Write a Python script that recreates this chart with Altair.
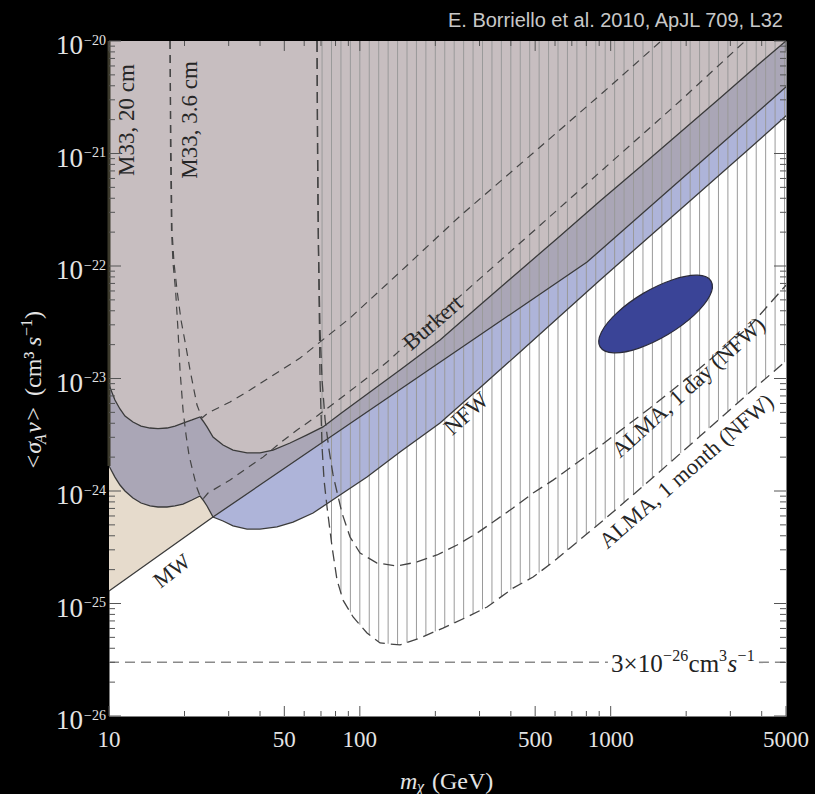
import altair as alt
import numpy as np
import pandas as pd

SERIF = "Liberation Serif"
SANS = "Liberation Sans"
W, H = 677, 675
FG = "#e4e4e4"

# ---- excluded-region boundaries: mass (GeV), <sigma v> (cm^3 s^-1) ----
burkert_m = [10, 10.56, 11.06, 11.58, 12.46, 13.42, 14.57, 15.68, 17.03, 18.33,
             19.73, 21.42, 23.06, 23.71, 24.59, 25.98, 28.48, 31.22, 35.5, 40.0,
             45.07, 52.7, 61.6, 71.3, 83.4, 109.8, 144.6, 208.8, 301.6, 435.3,
             628.4, 907.4, 1310, 1891, 2731, 3941, 5050]
burkert_s = [8.76e-24, 6.44e-24, 5.36e-24, 4.64e-24, 4.10e-24, 3.78e-24, 3.63e-24, 3.59e-24, 3.63e-24, 3.78e-24,
             4.02e-24, 4.28e-24, 4.55e-24, 4.19e-24, 3.71e-24, 3.02e-24, 2.56e-24, 2.31e-24, 2.18e-24, 2.18e-24,
             2.31e-24, 2.67e-24, 3.15e-24, 3.71e-24, 4.84e-24, 7.59e-24, 1.19e-23, 2.20e-23, 4.50e-23, 9.12e-23,
             1.85e-22, 3.78e-22, 7.59e-22, 1.54e-21, 3.11e-21, 6.37e-21, 1.02e-20]

nfw_m = [10, 10.56, 11.06, 11.58, 12.46, 13.42, 14.57, 15.68, 17.03, 18.33,
         19.73, 21.42, 23.06, 23.71, 24.59, 25.98, 28.48, 31.22, 35.5, 40.0,
         46.76, 54.17, 65.1, 81.1, 106.8, 144.6, 208.8, 309.9, 435.3, 628.4,
         907.4, 1436, 2273, 3595, 5050]
nfw_s = [1.67e-24, 1.33e-24, 1.13e-24, 1.0e-24, 8.67e-25, 7.82e-25, 7.36e-25, 7.21e-25, 7.21e-25, 7.36e-25,
         7.66e-25, 8.32e-25, 9.03e-25, 8.32e-25, 7.36e-25, 5.87e-25, 5.41e-25, 4.89e-25, 4.59e-25, 4.59e-25,
         4.79e-25, 5.30e-25, 6.37e-25, 8.85e-25, 1.33e-24, 2.22e-24, 4.02e-24, 8.76e-24, 1.72e-23, 3.59e-23,
         7.51e-23, 1.85e-22, 4.55e-22, 1.12e-21, 2.20e-21]

mw_m = [10, 25.98, 805.3, 5050]
mw_s = [1.29e-25, 5.87e-25, 1.085e-22, 3.98e-21]

# ---- M33 3.6 cm curves ----
m33_bur_m = [17.51, 17.67, 17.83, 18.16, 18.67, 19.37, 20.28, 21.04, 21.82, 22.43,
             23.49, 24.81, 30.37, 36.49, 57.76, 91.4, 144.6, 250.9, 523.1, 967.4, 1589]
m33_bur_s = [1e-20, 1.07e-21, 2.09e-22, 1.063e-22, 6.12e-23, 3.31e-23, 1.905e-23, 1.19e-23, 7.90e-24, 5.81e-24,
             4.46e-24, 4.94e-24, 6.18e-24, 7.90e-24, 1.52e-23, 3.45e-23, 8.85e-23, 2.78e-22, 1.142e-21, 3.75e-21, 1e-20]

m33_nfw_m = [17.51, 17.59, 17.75, 18.00, 18.42, 18.84, 19.19, 19.73, 20.28, 20.84,
             21.62, 22.43, 23.06, 23.71, 24.81, 30.37, 35.5, 41.12, 48.06, 56.2,
             67.5, 78.2, 106.8, 128.4, 228.9, 435.3, 907.4, 1891, 3436]
m33_nfw_s = [1e-20, 1.07e-21, 2.09e-22, 1.063e-22, 6.12e-23, 2.70e-23, 1.19e-23, 5.25e-24, 3.15e-24, 2.09e-24,
             1.475e-24, 1.063e-24, 9.03e-25, 8.49e-25, 9.6e-25, 1.25e-24, 1.60e-24, 2.00e-24, 2.67e-24, 3.48e-24,
             4.64e-24, 5.93e-24, 1.01e-23, 1.40e-23, 4.50e-23, 1.60e-22, 6.85e-22, 2.93e-21, 1e-20]

# ---- ALMA sensitivity (NFW) ----
alma_day_m = [67.5, 67.8, 68.4, 69.4, 70.7, 72.7, 75.4, 78.2, 81.1, 84.9,
              91.4, 100.2, 117.1, 140.7, 169.1, 203.1, 244.1, 293.4, 339.7, 408.1,
              490.6, 589.3, 907.4, 1436, 2273, 3595, 5050]
alma_day_s = [1e-20, 1.07e-21, 1.39e-22, 2.70e-23, 9.7e-24, 4.28e-24, 2.31e-24, 1.39e-24, 9.8e-25, 6.37e-25,
              3.90e-25, 2.81e-25, 2.29e-25, 2.15e-25, 2.34e-25, 2.70e-25, 3.31e-25, 4.23e-25, 5.30e-25, 7.06e-25,
              9.6e-25, 1.25e-24, 2.51e-24, 5.47e-24, 1.24e-23, 2.93e-23, 6.92e-23]

alma_month_m = [67.5, 68.1, 68.8, 69.4, 70.7, 72.0, 74.0, 77.5, 81.1, 85.7,
                94.0, 106.8, 120.4, 144.6, 173.8, 214.6, 267.6, 321.5, 408.1, 490.6,
                589.3, 907.4, 1436, 2273, 3595, 5050]
alma_month_s = [1e-20, 3.86e-22, 4.99e-23, 9.7e-24, 2.46e-24, 1.25e-24, 7.21e-25, 3.18e-25, 1.62e-25, 1.07e-25,
                7.59e-26, 5.47e-26, 4.46e-26, 4.28e-26, 4.94e-26, 6.05e-26, 7.59e-26, 9.31e-26, 1.37e-25, 1.72e-25,
                2.34e-25, 5.19e-25, 1.25e-24, 3.08e-24, 7.59e-24, 1.46e-23]

# ---- best-fit region ----
ellipse_m = [2513, 2484, 2146, 1691, 1291, 1028, 907.4, 918.3, 1062, 1349, 1767, 2219]
ellipse_s = [7.34e-23, 5.43e-23, 3.64e-23, 2.46e-23, 1.855e-23, 1.692e-23, 1.91e-23, 2.58e-23,
             3.85e-23, 5.71e-23, 7.55e-23, 8.28e-23]

thermal_s = 3e-26
S_TOP = 1e-20

# ---- axes ----
x_major = [10, 50, 100, 500, 1000, 5000]
x_minor = [20, 30, 40, 60, 70, 80, 90, 200, 300, 400, 600, 700, 800, 900, 2000, 3000, 4000]
y_exps = [-20, -21, -22, -23, -24, -25, -26]
y_major = [10.0 ** e for e in y_exps]
y_minor = [k * 10.0 ** e for e in range(-26, -20) for k in range(2, 10)]

xs = alt.Scale(type="log", domain=[10, 5000], nice=False)
ys = alt.Scale(type="log", domain=[1e-26, 1e-20], nice=False)
X = alt.X("m:Q", scale=xs, axis=None)
Y = alt.Y("s:Q", scale=ys, axis=None)
ONE = pd.DataFrame({"a": [0]})


def curve(ms, ss):
    return pd.DataFrame({"m": ms, "s": ss, "top": [S_TOP] * len(ms), "o": list(range(len(ms)))})


def region(ms, ss, color):
    return alt.Chart(curve(ms, ss)).mark_area(color=color, clip=True, opacity=1).encode(
        x=X, y=Y, y2="top:Q")


def path(ms, ss, color, width, dash=None):
    kw = dict(color=color, strokeWidth=width, clip=True)
    if dash:
        kw["strokeDash"] = dash
    return alt.Chart(curve(ms, ss)).mark_line(**kw).encode(x=X, y=Y, order="o:Q")


def pix_text(txt, x, y, size, **kw):
    return alt.Chart(ONE).mark_text(text=txt, fontSize=size, **kw).encode(
        x=alt.value(x), y=alt.value(y))


layers = []

# shaded exclusion regions, widest first
layers.append(region(mw_m, mw_s, "#e6dbcc"))
layers.append(region(nfw_m, nfw_s, "#aeb4d9"))
dark_m = nfw_m[:16] + mw_m[2:]
dark_s = nfw_s[:16] + mw_s[2:]
layers.append(region(dark_m, dark_s, "#aaa6b6"))
layers.append(region(burkert_m, burkert_s, "#c7bec0"))

# dark edge along the left border of the shaded band
layers.append(alt.Chart(pd.DataFrame({"m": [10], "s": [nfw_s[0]], "s2": [S_TOP]}))
              .mark_rule(color="#3c3a2c", strokeWidth=3)
              .encode(x=X, y=Y, y2="s2:Q"))

# vertical hatching above the ALMA one-month curve
hatch_m = 70.7 * 1.0905 ** np.arange(0, 60)
hatch_m = hatch_m[hatch_m < 5000]
hatch_s = 10 ** np.interp(np.log10(hatch_m), np.log10(alma_month_m), np.log10(alma_month_s))
layers.append(alt.Chart(pd.DataFrame({"m": hatch_m, "s": hatch_s, "top": S_TOP}))
              .mark_rule(color="#9a9a9a", strokeWidth=1, clip=True)
              .encode(x=X, y=Y, y2="top:Q"))

# solid boundaries
layers.append(path(burkert_m, burkert_s, "#3a3a3a", 1.3))
layers.append(path(nfw_m, nfw_s, "#3a3a3a", 1.3))
layers.append(path(mw_m, mw_s, "#3a3a3a", 1.3))

# dashed sensitivity curves
layers.append(path(m33_bur_m, m33_bur_s, "#444444", 1.2, [8, 6]))
layers.append(path(m33_nfw_m, m33_nfw_s, "#444444", 1.2, [8, 6]))
layers.append(path(alma_day_m, alma_day_s, "#444444", 1.3, [11, 6]))
layers.append(path(alma_month_m, alma_month_s, "#444444", 1.3, [11, 6]))

# best-fit ellipse
layers.append(alt.Chart(curve(ellipse_m, ellipse_s))
              .mark_line(interpolate="cardinal-closed", fill="#3a4497", stroke="#2b2b3b",
                         strokeWidth=1.2, clip=True)
              .encode(x=X, y=Y, order="o:Q"))

# thermal relic cross section
layers.append(alt.Chart(pd.DataFrame({"m": [10, 3900], "m2": [975, 5000], "s": [thermal_s] * 2}))
              .mark_rule(color="#8a8a8a", strokeWidth=1.6, strokeDash=[10, 6])
              .encode(x=X, x2="m2:Q", y=Y))
therm_parts = [("3×10", 25, "normal", 0, 10), ("−26", 16, "normal", 52, -1),
               ("cm", 25, "normal", 77.5, 10), ("3", 16, "normal", 108, -1),
               ("s", 25, "italic", 116.5, 10), ("−1", 16, "normal", 126.5, -1)]
for txt, size, style, dx, dy in therm_parts:
    layers.append(alt.Chart(pd.DataFrame({"m": [1004], "s": [thermal_s]}))
                  .mark_text(text=txt, font=SERIF, fontSize=size, fontStyle=style, align="left",
                             baseline="alphabetic", dx=dx, dy=dy, color="#222222")
                  .encode(x=X, y=Y))

# curve labels
labels = pd.DataFrame({
    "t": ["M33, 20 cm", "M33, 3.6 cm", "Burkert", "NFW", "MW",
          "ALMA, 1 day (NFW)", "ALMA, 1 month (NFW)"],
    "m": [11.8, 20.94, 195.8, 266.4, 17.83, 2045, 2008],
    "s": [1.98e-21, 1.985e-21, 3.11e-23, 4.84e-24, 1.945e-25, 8.32e-24, 1.49e-24],
    "a": [270, 270, 319, 318, 322, 318, 319],
    "fs": [23, 23, 23, 23, 22, 22.5, 22.5],
})
for _, r in labels.iterrows():
    layers.append(alt.Chart(pd.DataFrame([r]))
                  .mark_text(font=SERIF, fontSize=float(r.fs), angle=float(r.a), color="#262626",
                             align="center", baseline="middle")
                  .encode(x=X, y=Y, text="t:N"))

# inward ticks on all four sides
def xticks(vals, length):
    d = pd.DataFrame({"m": vals})
    bot = alt.Chart(d).mark_rule(color="#555555").encode(x=X, y=alt.value(H), y2=alt.value(H - length))
    top = alt.Chart(d).mark_rule(color="#555555").encode(x=X, y=alt.value(0), y2=alt.value(length))
    return [bot, top]


def yticks(vals, length):
    d = pd.DataFrame({"s": vals})
    lft = alt.Chart(d).mark_rule(color="#555555").encode(y=Y, x=alt.value(0), x2=alt.value(length))
    rgt = alt.Chart(d).mark_rule(color="#555555").encode(y=Y, x=alt.value(W), x2=alt.value(W - length))
    return [lft, rgt]


layers += xticks(x_major, 10) + xticks(x_minor, 5) + yticks(y_major, 12) + yticks(y_minor, 6)

# tick labels
layers.append(alt.Chart(pd.DataFrame({"m": x_major, "t": [str(v) for v in x_major]}))
              .mark_text(font=SERIF, fontSize=23, color=FG, align="center", baseline="alphabetic")
              .encode(x=X, y=alt.value(H + 31), text="t:N"))
ylab = pd.DataFrame({"s": y_major, "e": ["−" + str(-e) for e in y_exps]})
layers.append(alt.Chart(ylab).mark_text(text="10", font=SERIF, fontSize=27, color=FG, align="right",
                                        baseline="alphabetic", dy=13)
              .encode(y=Y, x=alt.value(-26)))
layers.append(alt.Chart(ylab).mark_text(font=SERIF, fontSize=14, color=FG, align="left",
                                        baseline="alphabetic", dy=3.5)
              .encode(y=Y, x=alt.value(-25), text="e:N"))

# axis titles
layers.append(pix_text("m", 291, 741, 24, font=SERIF, fontStyle="italic", color=FG, align="left"))
layers.append(pix_text("χ", 308, 746, 16, font=SERIF, fontStyle="italic", color=FG, align="left"))
layers.append(pix_text("(GeV)", 323, 741, 24, font=SERIF, color=FG, align="left"))

ytitle = [("<σ", 24, "italic", 0, 0, 26), ("A", 16, "italic", 5, 0, 11),
          ("v>", 24, "italic", 0, 0, 31), ("(cm³", 24, "normal", 0, 0, 50),
          ("s", 24, "italic", 0, 0, 10), ("−1", 16, "normal", -9, 0, 17), (")", 24, "normal", 0, 0, 8)]
yy = 470 - 41
for txt, size, style, shift, _, width in ytitle:
    layers.append(pix_text(txt, 41 - 109 + shift, yy, size, font=SERIF, fontStyle=style, color=FG,
                           align="left", angle=270, baseline="alphabetic"))
    yy -= width + (6 if txt == "v>" else 0)

# credit line
layers.append(pix_text("E. Borriello et al. 2010, ApJL 709, L32", 674, -14, 20, font=SANS,
                       color="#c8c8c8", align="right", baseline="alphabetic"))

chart = alt.layer(*layers).properties(
    width=W, height=H,
    autosize=alt.AutoSizeParams(type="none"),
    padding={"left": 109, "top": 41, "right": 29, "bottom": 78},
    background="black",
).configure_view(fill="white", stroke="transparent")

chart.save("out.html", embed_options={"renderer": "svg", "actions": False})
